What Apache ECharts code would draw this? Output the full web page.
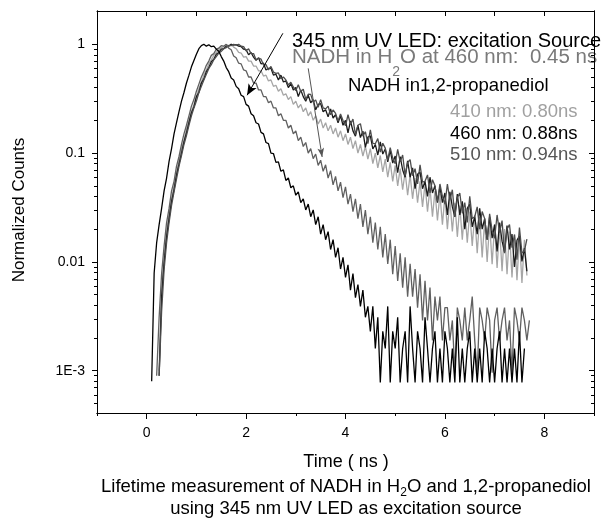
<!DOCTYPE html>
<html><head><meta charset="utf-8">
<script src="https://cdn.jsdelivr.net/npm/echarts@6/dist/echarts.min.js"></script>
<style>html,body{margin:0;padding:0;background:#fff}#c{width:605px;height:519px}</style>
</head><body><div id="c"></div>
<script>
// time grid (ns)
const times = [0,0.05,0.1,0.15,0.2,0.25,0.3,0.35,0.4,0.45,0.5,0.55,0.6,0.65,0.7,0.75,0.8,0.85,0.9,0.95,1,1.05,1.1,1.15,1.2,1.25,1.3,1.35,1.4,1.45,1.5,1.55,1.6,1.65,1.7,1.75,1.8,1.85,1.9,1.95,2,2.05,2.1,2.15,2.2,2.25,2.3,2.35,2.4,2.45,2.5,2.55,2.6,2.65,2.7,2.75,2.8,2.85,2.9,2.95,3,3.05,3.1,3.15,3.2,3.25,3.3,3.35,3.4,3.45,3.5,3.55,3.6,3.65,3.7,3.75,3.8,3.85,3.9,3.95,4,4.05,4.1,4.15,4.2,4.25,4.3,4.35,4.4,4.45,4.5,4.55,4.6,4.65,4.7,4.75,4.8,4.85,4.9,4.95,5,5.05,5.1,5.15,5.2,5.25,5.3,5.35,5.4,5.45,5.5,5.55,5.6,5.65,5.7,5.75,5.8,5.85,5.9,5.95,6,6.05,6.1,6.15,6.2,6.25,6.3,6.35,6.4,6.45,6.5,6.55,6.6,6.65,6.7,6.75,6.8,6.85,6.9,6.95,7,7.05,7.1,7.15,7.2,7.25,7.3,7.35,7.4,7.45,7.5,7.55,7.6,7.65,7.7];

// 345 nm UV LED (excitation source)
const ledUV = [null,null,0.0008,0.0079,0.015,0.022,0.031,0.045,0.059,0.084,
0.11,0.15,0.19,0.24,0.30,0.36,0.44,0.52,0.62,0.71,
0.81,0.91,0.97,1.0,0.96,0.99,0.95,0.96,0.90,0.86,
0.77,0.70,0.61,0.56,0.49,0.47,0.41,0.39,0.34,0.33,
0.28,0.27,0.23,0.22,0.19,0.185,0.155,0.15,0.125,0.122,
0.10,0.099,0.082,0.083,0.068,0.070,0.056,0.059,0.048,0.050,
0.041,0.044,0.035,0.038,0.030,0.034,0.026,0.030,0.022,0.026,
0.018,0.022,0.016,0.019,0.013,0.016,0.011,0.0135,0.0086,0.011,
0.0072,0.0094,0.0055,0.0078,0.0047,0.0062,0.0039,0.0055,0.0031,0.0039,
0.0023,
0.0039,0.0016,0.0031,0.00078,0.0023,0.0016,0.0039,0.00078,0.0023,0.0016,
0.0031,0.00078,0.0016,0.0023,0.00078,0.0039,0.0016,0.00078,0.0023,0.0016,
0.00078,0.0031,0.0016,0.00078,0.0016,0.0023,0.00078,0.0016,0.00078,0.0023,
0.0016,0.00078,0.0016,0.00078,0.0031,0.00078,0.0016,0.00078,0.0016,0.0023,
0.00078,0.0016,0.00078,0.0016,0.00078,0.0023,0.0016,0.00078,0.0016,0.00078,
0.0016,0.0023,0.00078,0.0016,0.00078,0.0016,0.00078,0.0016,0.00078,0.0023,
0.00078,0.0016,null,null];

// NADH in H2O, 460 nm (0.45 ns)
const nadhH2O = [null,null,null,null,0.0009,0.0031,0.0078,0.014,0.023,0.031,
0.045,0.055,0.076,0.093,0.12,0.15,0.18,0.22,0.27,0.31,
0.37,0.43,0.50,0.56,0.64,0.70,0.79,0.82,0.90,0.92,
0.97,0.96,1.0,0.92,0.89,0.78,0.75,0.67,0.66,0.58,
0.57,0.50,0.50,0.44,0.44,0.38,0.38,0.33,0.33,0.29,
0.30,0.26,0.26,0.22,0.23,0.20,0.20,0.17,0.18,0.15,
0.16,0.13,0.14,0.115,0.125,0.10,0.11,0.089,0.098,0.077,
0.086,0.068,0.078,0.059,0.069,0.051,0.061,0.045,0.054,0.039,
0.049,0.034,0.042,0.029,0.038,0.025,0.034,0.021,0.030,0.018,
0.026,0.015,0.023,0.013,0.021,0.011,0.018,0.0096,0.016,0.0077,
0.014,0.0067,0.012,0.0058,0.011,0.0048,0.0096,0.0048,0.0086,0.0038,
0.0077,0.0029,0.0067,0.0029,0.0058,0.0019,0.0048,0.0029,0.0048,0.0019,
0.0038,
0.0038,0.0019,0.0029,0.00096,0.0038,0.0029,0.0019,0.0038,0.0019,0.0029,
0.0048,0.0019,0.00096,0.0038,0.0029,0.0019,0.0038,0.0029,0.00096,0.0029,
0.0038,0.0019,0.0029,0.0038,0.0019,0.0029,0.00096,0.0038,0.0029,0.0019,
0.0038,0.0029,0.0019,0.0029];

// NADH in 1,2-propanediol, 410 nm (0.80 ns)
const pd410 = [null,null,null,null,null,0.001,0.0055,0.011,0.019,0.028,
0.038,0.050,0.066,0.086,0.11,0.13,0.165,0.20,0.24,0.28,
0.33,0.39,0.45,0.52,0.58,0.66,0.72,0.79,0.84,0.89,
0.93,0.95,0.99,0.97,1.0,0.94,0.91,0.84,0.83,0.76,
0.77,0.70,0.70,0.63,0.63,0.57,0.57,0.51,0.52,0.46,
0.47,0.41,0.42,0.37,0.39,0.34,0.35,0.31,0.33,0.28,
0.30,0.26,0.28,0.24,0.26,0.22,0.24,0.20,0.22,0.185,
0.205,0.17,0.19,0.16,0.18,0.15,0.17,0.14,0.16,0.13,
0.15,0.12,0.14,0.11,0.13,0.10,0.12,0.094,0.115,0.088,
0.11,0.080,0.10,0.073,0.095,0.067,0.088,0.060,0.082,0.055,
0.077,0.050,0.072,0.046,0.067,0.041,0.063,0.038,0.059,0.035,
0.055,0.032,0.052,0.029,0.048,0.026,0.045,0.024,0.042,0.022,
0.040,0.020,0.037,0.019,0.035,0.017,0.033,0.016,0.031,0.015,
0.029,0.014,0.027,0.012,0.026,0.011,0.024,0.010,0.023,0.0095,
0.022,0.0088,0.021,0.0082,0.020,0.0077,0.019,0.0072,0.018,0.0068,
0.017,0.0064,0.016,0.0075,null];

// NADH in 1,2-propanediol, 460 nm (0.88 ns)
const pd460 = [null,null,null,null,null,0.0009,0.0048,0.0098,0.017,0.025,
0.036,0.046,0.063,0.079,0.10,0.127,0.153,0.19,0.235,0.265,
0.33,0.36,0.44,0.48,0.56,0.61,0.69,0.73,0.81,0.84,
0.90,0.91,0.96,0.96,1.0,0.98,0.99,0.96,0.95,0.90,
0.89,0.80,0.84,0.76,0.71,0.75,0.66,0.67,0.58,0.60,
0.60,0.52,0.53,0.47,0.52,0.45,0.46,0.40,0.435,0.38,
0.40,0.33,0.38,0.33,0.30,0.34,0.29,0.31,0.25,0.28,
0.285,0.24,0.25,0.215,0.255,0.21,0.225,0.19,0.22,0.18,
0.20,0.153,0.197,0.16,0.143,0.18,0.139,0.159,0.113,0.14,
0.144,0.109,0.12,0.096,0.127,0.098,0.109,0.083,0.106,0.081,
0.094,0.066,0.093,0.070,0.060,0.085,0.060,0.073,0.047,0.064,
0.067,0.047,0.055,0.040,0.060,0.043,0.050,0.035,0.049,0.035,
0.043,0.027,0.044,0.032,0.026,0.042,0.027,0.036,0.020,0.031,
0.034,0.021,0.026,0.018,0.031,0.020,0.025,0.016,0.026,0.0165,
0.022,0.0125,0.023,0.0155,0.0123,0.0216,0.013,0.018,0.009,0.0158,
0.0174,0.0101,0.0134,0.0082,null];

// NADH in 1,2-propanediol, 510 nm (0.94 ns)
const pd510 = [null,null,null,null,null,0.0009,0.0035,0.0085,0.015,0.023,
0.033,0.044,0.058,0.076,0.095,0.12,0.145,0.18,0.22,0.26,
0.30,0.36,0.41,0.47,0.53,0.60,0.65,0.72,0.77,0.83,
0.86,0.91,0.93,0.97,0.97,1.0,0.98,1.0,0.96,0.95,
0.87,0.91,0.82,0.82,0.72,0.745,0.73,0.645,0.65,0.58,
0.625,0.555,0.54,0.545,0.483,0.50,0.47,0.423,0.447,0.405,
0.375,0.425,0.368,0.386,0.312,0.347,0.346,0.293,0.308,0.264,
0.31,0.26,0.255,0.27,0.225,0.249,0.231,0.197,0.229,0.199,
0.178,0.225,0.184,0.205,0.148,0.18,0.186,0.143,0.157,0.122,
0.163,0.123,0.122,0.136,0.102,0.123,0.111,0.086,0.112,0.090,
0.080,0.108,0.083,0.096,0.062,0.082,0.087,0.062,0.072,0.052,
0.078,0.054,0.055,0.063,0.043,0.057,0.050,0.036,0.052,0.040,
0.034,0.052,0.037,0.046,0.026,0.039,0.043,0.028,0.035,0.023,
0.040,0.025,0.026,0.032,0.020,0.029,0.025,0.016,0.0276,0.0195,
0.0165,0.027,0.0186,0.024,0.012,0.020,0.022,0.0135,0.0177,0.0105,
0.0207,0.0121,0.0126,0.0162,null];

const xTickLabels = [0, 2, 4, 6, 8];
const yTickLabels = [0.001, 0.01, 0.1, 1];
const yMinorTicks = [0.0005,0.0006,0.0007,0.0008,0.0009,
  0.002,0.003,0.004,0.005,0.006,0.007,0.008,0.009,
  0.02,0.03,0.04,0.05,0.06,0.07,0.08,0.09,
  0.2,0.3,0.4,0.5,0.6,0.7,0.8,0.9];

const FONT = '"Liberation Sans", Arial, sans-serif';
function pairs(ys) {
  const out = [];
  for (let i = 0; i < times.length; i++) if (ys[i] != null) out.push([times[i], ys[i]]);
  return out;
}
function fmtY(v) {
  if (Math.abs(v - 0.001) < 1e-9) return '1E-3';
  if (Math.abs(v - 0.01) < 1e-9) return '0.01';
  if (Math.abs(v - 0.1) < 1e-9) return '0.1';
  if (Math.abs(v - 1) < 1e-9) return '1';
  return '';
}
const chart = echarts.init(document.getElementById('c'));
const line = { show: true, onZero: false, lineStyle: { color: '#000', width: 1 } };
const tickStyle = { color: '#000', width: 1 };
const xBase = { type: 'value', min: -1, max: 9, splitLine: { show: false }, axisLine: line };
const yBase = { type: 'log', logBase: 10, min: 0.000409, max: 2.02, splitLine: { show: false }, axisLine: line };

function ser(name, ys, color, extra) {
  return Object.assign({
    name, type: 'line', data: pairs(ys), showSymbol: false, symbol: 'none',
    lineStyle: { color, width: 1.3 }, itemStyle: { color }, xAxisIndex: 0, yAxisIndex: 0,
    silent: true, z: 2
  }, extra || {});
}

const option = {
  animation: false,
  backgroundColor: '#fff',
  grid: { left: 97, top: 11, width: 497, height: 402, containLabel: false },
  xAxis: [
    Object.assign({}, xBase, { position: 'bottom',
      axisTick: { show: true, inside: false, length: 6, customValues: xTickLabels, lineStyle: tickStyle },
      axisLabel: { show: true, customValues: xTickLabels, margin: 13, fontSize: 14, fontFamily: FONT, color: '#000' } }),
    Object.assign({}, xBase, { position: 'bottom', interval: 1,
      axisTick: { show: true, inside: false, length: 3, lineStyle: tickStyle }, axisLabel: { show: false } }),
    Object.assign({}, xBase, { position: 'top', interval: 1,
      axisTick: { show: true, inside: true, length: 5, lineStyle: tickStyle }, axisLabel: { show: false } })
  ],
  yAxis: [
    Object.assign({}, yBase, { position: 'left',
      axisTick: { show: true, inside: false, length: 5, customValues: yTickLabels, lineStyle: tickStyle },
      axisLabel: { show: true, customValues: yTickLabels, formatter: fmtY, margin: 12, fontSize: 14, fontFamily: FONT, color: '#000' } }),
    Object.assign({}, yBase, { position: 'left',
      axisTick: { show: true, inside: false, length: 3, customValues: yMinorTicks, lineStyle: tickStyle }, axisLabel: { show: false } }),
    Object.assign({}, yBase, { position: 'right',
      axisTick: { show: true, inside: true, length: 5, customValues: yTickLabels, lineStyle: tickStyle }, axisLabel: { show: false } }),
    Object.assign({}, yBase, { position: 'right',
      axisTick: { show: true, inside: true, length: 3, customValues: yMinorTicks, lineStyle: tickStyle }, axisLabel: { show: false } })
  ],
  series: [
    ser('410 nm', pd410, '#a6a6a6'),
    ser('460 nm', pd460, '#1a1a1a'),
    ser('510 nm', pd510, '#4d4d4d'),
    ser('NADH in H2O', nadhH2O, '#606060', {
      markLine: { silent: true, symbol: ['none', 'arrow'], symbolSize: [5, 9], label: { show: false },
        lineStyle: { color: '#555', width: 1, type: 'solid' },
        data: [[{ coord: [3.25, 0.60] }, { coord: [3.53, 0.092] }]] }
    }),
    ser('345 nm UV LED', ledUV, '#000', {
      markLine: { silent: true, symbol: ['none', 'arrow'], symbolSize: [7, 11], label: { show: false },
        lineStyle: { color: '#000', width: 1, type: 'solid' },
        data: [[{ coord: [2.74, 1.26] }, { coord: [2.02, 0.34] }]] }
    })
  ],
  graphic: [
    { type: 'text', x: 19, y: 210, rotation: Math.PI / 2, style: { text: 'Normalized Counts', fill: '#000', font: '17px ' + FONT, align: 'center', verticalAlign: 'middle' } },
    { type: 'text', x: 346, y: 462, style: { text: 'Time ( ns )', fill: '#000', font: '18px ' + FONT, align: 'center', verticalAlign: 'middle' } },
    { type: 'text', x: 346, y: 487, style: { text: 'Lifetime measurement of NADH in H{s|2}O and 1,2-propanediol', fill: '#000', font: '18.5px ' + FONT, lineHeight: 24, align: 'center', verticalAlign: 'middle',
      rich: { s: { fontSize: 12, fontFamily: FONT, lineHeight: 12, verticalAlign: 'bottom', fill: '#000' } } } },
    { type: 'text', x: 346, y: 509, style: { text: 'using 345 nm UV LED as excitation source', fill: '#000', font: '18.5px ' + FONT, align: 'center', verticalAlign: 'middle' } },
    { type: 'text', x: 292, y: 41, style: { text: '345 nm UV LED: excitation Source', fill: '#000', font: '20px ' + FONT, align: 'left', verticalAlign: 'middle' } },
    { type: 'text', x: 292, y: 57, style: { text: 'NADH in H{s|2}O at 460 nm:  0.45 ns', fill: '#7a7a7a', font: '20.5px ' + FONT, lineHeight: 44, align: 'left', verticalAlign: 'middle',
      rich: { s: { fontSize: 14, fontFamily: FONT, lineHeight: 14, verticalAlign: 'bottom', fill: '#7a7a7a' } } } },
    { type: 'text', x: 348, y: 86, style: { text: 'NADH in1,2-propanediol', fill: '#000', font: '18.5px ' + FONT, align: 'left', verticalAlign: 'middle' } },
    { type: 'text', x: 450, y: 112, style: { text: '410 nm: 0.80ns', fill: '#a0a0a0', font: '18.5px ' + FONT, align: 'left', verticalAlign: 'middle' } },
    { type: 'text', x: 450, y: 133.5, style: { text: '460 nm: 0.88ns', fill: '#000', font: '18.5px ' + FONT, align: 'left', verticalAlign: 'middle' } },
    { type: 'text', x: 450, y: 155, style: { text: '510 nm: 0.94ns', fill: '#555', font: '18.5px ' + FONT, align: 'left', verticalAlign: 'middle' } }
  ]
};
chart.setOption(option);
</script>
</body></html>
